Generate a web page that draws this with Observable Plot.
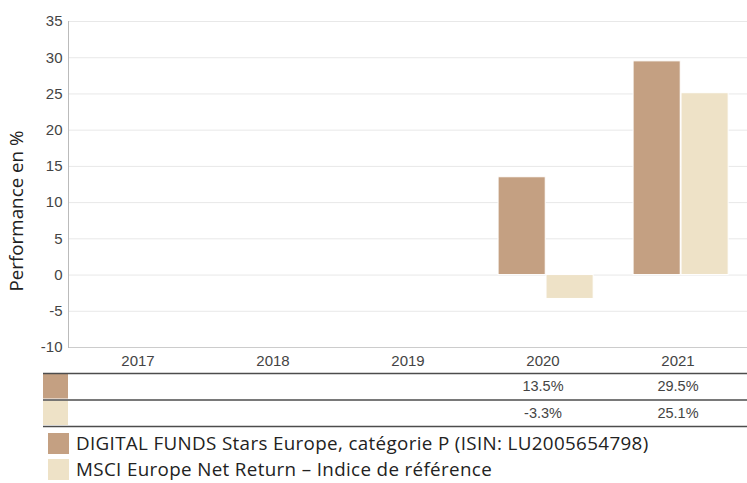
<!DOCTYPE html>
<html>
<head>
<meta charset="utf-8">
<script src="https://cdn.jsdelivr.net/npm/d3@7"></script>
<script src="https://cdn.jsdelivr.net/npm/@observablehq/plot@0.6"></script>
<style>
  html, body { margin: 0; padding: 0; background: #fff; }
  #wrap { position: relative; width: 747px; height: 483px; overflow: hidden; }
  #wrap svg { display: block; }
  #ylabel {
    position: absolute; left: 16px; top: 211px;
    transform: translate(-50%, -50%) rotate(-90deg);
    font-family: "Open Sans", sans-serif; font-size: 18.8px; line-height: 20px; color: #222; white-space: nowrap;
  }
  #legend { position: absolute; left: 48px; top: 430px; font-family: "Open Sans", sans-serif; font-size: 18.8px; letter-spacing: 0.35px; color: #222; }
  .lrow { display: flex; align-items: center; height: 26px; white-space: nowrap; }
  .lrow span { line-height: 20px; }
  .sw { width: 21px; height: 21px; margin-right: 7px; flex: none; }
</style>
</head>
<body>
<div id="wrap">
  <div id="main"></div>
  <div id="table"></div>
  <div id="ylabel">Performance en %</div>
  <div id="legend"></div>
</div>
<script>
const years = ["2017", "2018", "2019", "2020", "2021"];
const fundValues = [null, null, null, 13.5, 29.5];
const indexValues = [null, null, null, -3.3, 25.1];
const seriesKeys = ["fund", "index"];
const seriesNames = [
  "DIGITAL FUNDS Stars Europe, catégorie P (ISIN: LU2005654798)",
  "MSCI Europe Net Return – Indice de référence"
];
const seriesColors = ["#c4a082", "#eee2c7"];
const yTicks = [-10, -5, 0, 5, 10, 15, 20, 25, 30, 35];

const seriesValues = [fundValues, indexValues];
const data = [];
years.forEach((yr, i) => {
  seriesKeys.forEach((s, j) => {
    const v = seriesValues[j][i];
    if (v != null) data.push({year: yr, series: s, value: v, row: j});
  });
});
const rows = seriesKeys.map((s, j) => ({series: s, row: j}));

const font = "'Liberation Sans', Arial, sans-serif";
const W = 747, ML = 68;
const bw = (W - ML) / years.length;     // band width of one year
const barW = 0.353 * bw;                // width of one bar
const lead = 0.17 * bw;                 // space before the first bar of a group

const main = Plot.plot({
  width: W, height: 372,
  marginLeft: ML, marginRight: 0, marginTop: 21, marginBottom: 25,
  style: {fontFamily: font, fontSize: "15px", color: "#444", background: "white"},
  x: {type: "band", domain: years, padding: 0, label: null, tickSize: 0, tickPadding: 8},
  y: {domain: [-10, 35], ticks: yTicks, tickSize: 0, tickPadding: 6, label: null, tickFormat: d => String(d)},
  color: {domain: seriesKeys, range: seriesColors},
  marks: [
    Plot.ruleY(yTicks.filter(t => t > -10), {stroke: "#e8e8e8", strokeWidth: 1}),
    Plot.ruleY([-10], {stroke: "#cccccc", strokeWidth: 1}),
    Plot.frame({anchor: "left", stroke: "#bbbbbb"}),
    Plot.barY(data.filter(d => d.series === "fund"), {
      x: "year", y: "value", fill: "series", stroke: "white", strokeWidth: 1,
      insetLeft: lead, insetRight: bw - lead - barW
    }),
    Plot.barY(data.filter(d => d.series === "index"), {
      x: "year", y: "value", fill: "series", stroke: "white", strokeWidth: 1,
      insetLeft: lead + barW, insetRight: bw - lead - 2 * barW
    })
  ]
});
document.getElementById("main").appendChild(main);

const table = Plot.plot({
  width: W, height: 56,
  marginLeft: 43, marginRight: 0, marginTop: 0, marginBottom: 0,
  style: {fontFamily: font, fontSize: "14.5px", color: "#444", background: "white"},
  x: {type: "band", domain: years, range: [ML, W], padding: 0, axis: null},
  y: {domain: [0, 2], range: [1, 54], axis: null},
  color: {domain: seriesKeys, range: seriesColors},
  marks: [
    Plot.rect(rows, {y1: "row", y2: d => d.row + 1, fill: "series", insetRight: W - ML, insetTop: 1, insetBottom: 1}),
    Plot.ruleY([0, 1, 2], {stroke: "#4d4d4d", strokeWidth: 1.6}),
    Plot.text(data, {x: "year", y: d => d.row + 0.5, text: d => d.value.toFixed(1) + "%", fill: "#444"})
  ]
});
document.getElementById("table").appendChild(table);

const legend = document.getElementById("legend");
seriesKeys.forEach((s, j) => {
  const r = document.createElement("div");
  r.className = "lrow";
  const sw = document.createElement("div");
  sw.className = "sw";
  sw.style.background = seriesColors[j];
  const t = document.createElement("span");
  t.textContent = seriesNames[j];
  r.appendChild(sw); r.appendChild(t);
  legend.appendChild(r);
});
</script>
</body>
</html>
